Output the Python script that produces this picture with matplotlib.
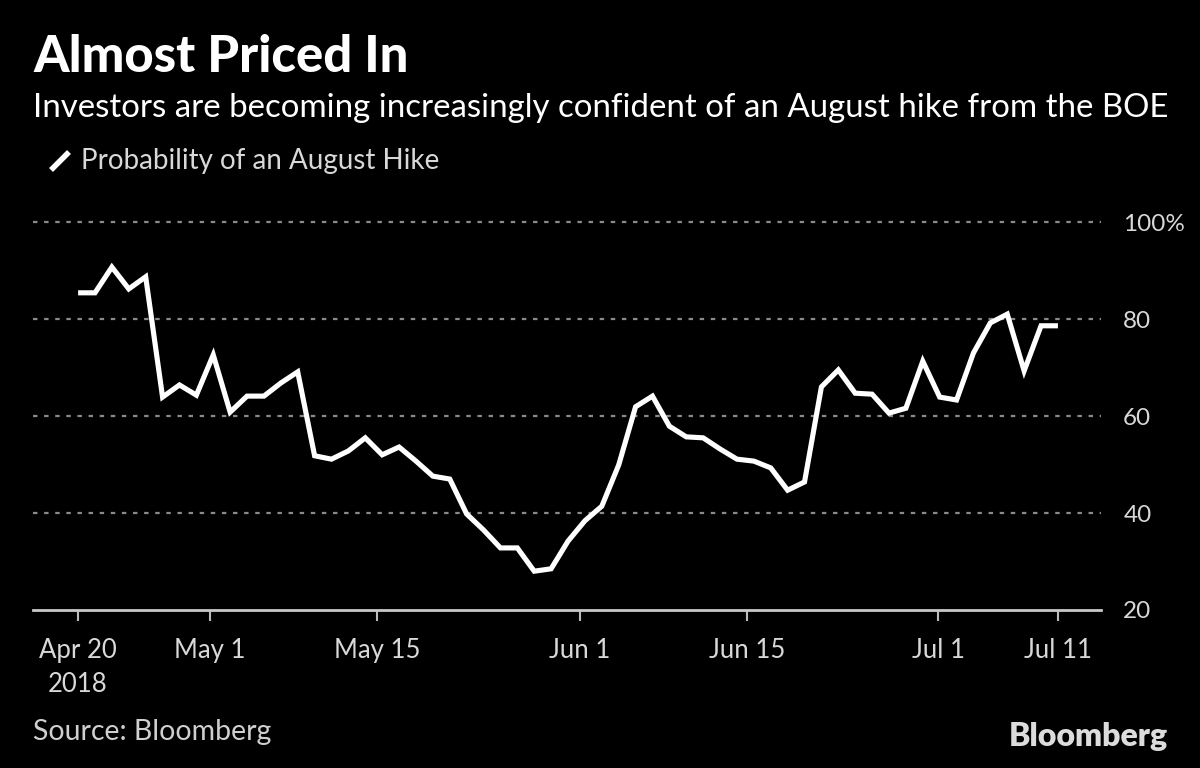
import matplotlib
matplotlib.use("Agg")
import matplotlib.pyplot as plt
from matplotlib.lines import Line2D
import pandas as pd
import numpy as np

plt.rcParams['font.family'] = ['Lato', 'DejaVu Sans']

# ---- data ----
dates = pd.bdate_range("2018-04-20", "2018-07-11")
probability = [85.4, 85.4, 90.7, 86.2, 88.7, 63.9, 66.4, 64.3, 72.6, 60.8,
               64.1, 64.1, 66.8, 69.1, 51.8, 51.1, 52.8, 55.5, 52.0, 53.6,
               50.7, 47.6, 47.0, 39.8, 36.5, 32.8, 32.8, 28.0, 28.5, 34.2,
               38.4, 41.4, 49.9, 61.9, 64.1, 57.9, 55.7, 55.5, 53.2, 51.1,
               50.7, 49.3, 44.7, 46.4, 66.0, 69.5, 64.7, 64.5, 60.6, 61.6,
               71.3, 63.9, 63.3, 73.0, 79.2, 81.0, 69.3, 78.6, 78.6]
tick_dates = pd.to_datetime(["2018-04-20", "2018-05-01", "2018-05-15", "2018-06-01",
                             "2018-06-15", "2018-07-01", "2018-07-11"])
tick_labels = ["Apr 20\n2018", "May 1", "May 15", "Jun 1", "Jun 15", "Jul 1", "Jul 11"]
y_ticks = [20, 40, 60, 80, 100]
y_labels = ["20", "40", "60", "80", "100%"]

title = "Almost Priced In"
subtitle = "Investors are becoming increasingly confident of an August hike from the BOE"
legend_label = "Probability of an August Hike"
source = "Source: Bloomberg"

# ---- figure ----
W, H = 1200, 768
fig = plt.figure(figsize=(W / 100, H / 100), dpi=100, facecolor="black")

ymin, ymax = 20, 104
px_per_unit = 4.85
top_px = 610 - (ymax - ymin) * px_per_unit
ax = fig.add_axes([33 / W, 1 - 610 / H, (1101 - 33) / W, (610 - top_px) / H])
ax.set_facecolor("black")

n = len(dates)
span_days = (dates[-1] - dates[0]).days
# points are evenly spread over the calendar span, ticks at calendar positions
xpos = np.arange(n)
ax.plot(xpos, probability, color="white", lw=3.7, solid_joinstyle="miter",
        solid_capstyle="butt", zorder=3)

tick_pos = [(d - dates[0]).days * (n - 1) / span_days for d in tick_dates]
ax.set_xticks(tick_pos)
ax.set_xticklabels(tick_labels, color="#d8d8d8", fontsize=18.5, linespacing=1.45)
ax.set_xlim(-2.67, 60.55)
ax.set_ylim(ymin, ymax)

ax.yaxis.tick_right()
ax.set_yticks(y_ticks)
ax.set_yticklabels(y_labels, color="#d8d8d8", fontsize=17.5, ha="left")
ax.tick_params(axis="y", length=0, pad=16)
ax.tick_params(axis="x", length=8, width=1.5, color="#bbbbbb", pad=12)

for yv in y_ticks[1:]:
    ax.axhline(yv, color="#8a8a8a", lw=1.6, ls=(0, (2, 3)), zorder=1)

for s in ["top", "right", "left"]:
    ax.spines[s].set_visible(False)
ax.spines["bottom"].set_color("#c8c8c8")
ax.spines["bottom"].set_linewidth(2)

# ---- texts ----
fig.text(33 / W, 1 - 72 / H, title, color="white", fontsize=36.5, fontweight="black",
         ha="left", va="baseline")
fig.text(33 / W, 1 - 117 / H, subtitle, color="white", fontsize=23.8,
         ha="left", va="baseline")
fig.add_artist(Line2D([51 / W, 69 / W], [1 - 170 / H, 1 - 152 / H], color="white",
                      lw=4, solid_capstyle="butt"))
fig.text(81 / W, 1 - 169 / H, legend_label, color="#d8d8d8", fontsize=20,
         ha="left", va="baseline")
fig.text(33 / W, 1 - 740 / H, source, color="#cfcfcf", fontsize=20.5,
         ha="left", va="baseline")
fig.text(1168 / W, 1 - 746 / H, "Bloomberg", color="#dcdcdc", fontsize=23,
         fontweight="heavy", ha="right", va="baseline")

fig.savefig("out.png", dpi=100, facecolor="black")
